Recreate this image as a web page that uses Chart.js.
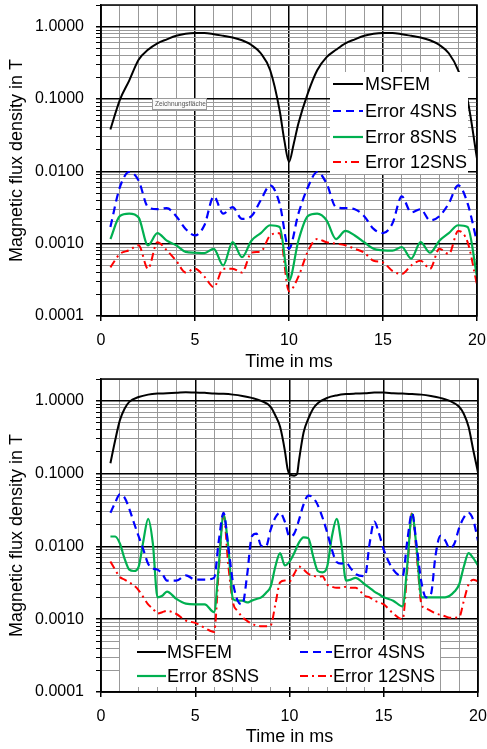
<!DOCTYPE html>
<html>
<head>
<meta charset="utf-8">
<script src="https://cdn.jsdelivr.net/npm/chart.js@4"></script>
<style>
  body { margin: 0; background: #fff; }
  canvas { display: block; }
</style>
</head>
<body>
<canvas id="chartTop" width="487" height="372"></canvas>
<canvas id="chartBottom" width="487" height="377"></canvas>
<script>
// ---- data ----
var xTickLabels = [0, 5, 10, 15, 20];
var decades = [0.0001, 0.001, 0.01, 0.1, 1];
var yTickLabels = ['0.0001', '0.0010', '0.0100', '0.1000', '1.0000'];

// upper chart
var msfemTopT = [0.5,1,1.5,2,2.5,3,3.5,4,4.5,5,5.5,6,6.5,7,7.5,8,8.5,9,9.5,9.75,10,10.25,10.5,11,11.5,12,12.5,13,13.5,14,14.5,15,15.5,16,16.5,17,17.5,18,18.5,19,19.5,20];
var msfemTop = [0.038,0.097,0.18,0.35,0.48,0.59,0.67,0.75,0.8,0.82,0.82,0.79,0.75,0.71,0.65,0.56,0.43,0.25,0.07,0.027,0.0135,0.024,0.046,0.12,0.25,0.38,0.48,0.59,0.67,0.75,0.8,0.82,0.82,0.79,0.75,0.71,0.65,0.56,0.43,0.25,0.097,0.015];

var errTopT = [0.5,1,1.5,2,2.5,3,3.5,4,4.5,5,5.5,6,6.5,7,7.5,8,8.5,9,9.5,10,10.5,11,11.5,12,12.5,13,13.5,14,14.5,15,15.5,16,16.5,17,17.5,18,18.5,19,19.5,20];
var err4Top = [0.0017,0.006,0.0098,0.0075,0.0032,0.003,0.0031,0.0024,0.0016,0.0013,0.0018,0.0045,0.0026,0.0032,0.0022,0.0024,0.004,0.0064,0.0036,0.00085,0.0026,0.006,0.0098,0.0068,0.0032,0.0031,0.003,0.0024,0.0016,0.0014,0.0019,0.0045,0.0027,0.003,0.0021,0.0024,0.0036,0.0064,0.0036,0.00105];
var err8Top = [0.00116,0.0024,0.0026,0.0023,0.00095,0.0014,0.0011,0.00095,0.00077,0.00075,0.00074,0.00085,0.0005,0.00105,0.00065,0.0011,0.0014,0.0018,0.0017,0.00031,0.0011,0.0024,0.0026,0.0021,0.00116,0.0015,0.0013,0.00105,0.00085,0.00081,0.0008,0.0009,0.00062,0.00105,0.00075,0.0011,0.0014,0.0018,0.0017,0.00035];
var err12Top = [0.00047,0.00072,0.00081,0.00095,0.00045,0.00105,0.00081,0.00058,0.0004,0.00045,0.00035,0.00025,0.00045,0.00045,0.0004,0.00075,0.00078,0.0013,0.0014,0.00022,0.00035,0.00078,0.00116,0.00105,0.001,0.00095,0.00085,0.00075,0.00058,0.00055,0.00042,0.00038,0.0005,0.00058,0.00045,0.00085,0.00072,0.0015,0.00105,0.00027];

// lower chart
var msfemBotT = [0.5,0.75,1,1.25,1.5,2,2.5,3,3.5,4,4.5,5,5.5,6,6.5,7,7.5,8,8.5,9,9.25,9.5,9.75,9.9,10,10.25,10.4,10.5,10.75,11,11.25,11.5,12,12.5,13,13.5,14,14.5,15,15.5,16,16.5,17,17.5,18,18.5,19,19.25,19.5,19.75,20];
var msfemBot = [0.139,0.286,0.54,0.78,0.97,1.13,1.22,1.26,1.27,1.29,1.32,1.3,1.29,1.26,1.25,1.22,1.17,1.1,1.0,0.83,0.63,0.44,0.21,0.116,0.099,0.094,0.099,0.15,0.37,0.57,0.78,0.93,1.1,1.19,1.24,1.26,1.27,1.3,1.3,1.27,1.26,1.24,1.22,1.17,1.1,1.0,0.83,0.66,0.44,0.21,0.104];

var errBotT = [0.5,0.75,1,1.25,1.5,1.75,2,2.25,2.5,2.75,3,3.25,3.5,4,4.5,5,5.5,6,6.25,6.5,6.75,7,7.25,7.5,7.75,8,8.25,8.5,8.75,9,9.25,9.5,9.75,10,10.25,10.5,10.75,11,11.25,11.5,11.75,12,12.25,12.5,12.75,13,13.25,13.5,14,14.25,14.5,14.75,15,15.5,16,16.25,16.5,16.75,17,17.25,17.5,17.75,18,18.25,18.5,18.75,19,19.25,19.5,19.75,20];
var err4Bot = [0.029,0.04,0.052,0.047,0.033,0.021,0.0137,0.009,0.0058,0.005,0.0048,0.0042,0.0034,0.0034,0.004,0.0035,0.0035,0.0037,0.012,0.029,0.01,0.0032,0.0018,0.0016,0.004,0.0137,0.015,0.0102,0.01,0.017,0.025,0.029,0.022,0.0137,0.015,0.023,0.038,0.05,0.047,0.037,0.025,0.0155,0.009,0.0061,0.0058,0.006,0.005,0.0042,0.0039,0.011,0.022,0.015,0.009,0.0048,0.0039,0.012,0.029,0.01,0.0032,0.002,0.0022,0.0076,0.014,0.0122,0.0094,0.011,0.018,0.025,0.029,0.023,0.012];
var err8Bot = [0.0137,0.0137,0.011,0.0068,0.0048,0.0046,0.0053,0.012,0.024,0.011,0.002,0.0021,0.0024,0.0019,0.00164,0.0016,0.0016,0.00125,0.0056,0.027,0.01,0.0019,0.0018,0.0018,0.0017,0.0018,0.0019,0.002,0.0023,0.0028,0.0053,0.0081,0.0055,0.0062,0.0081,0.0113,0.0133,0.013,0.0074,0.0046,0.0044,0.0053,0.0137,0.024,0.011,0.0034,0.0035,0.0037,0.003,0.0027,0.0024,0.0022,0.002,0.0018,0.0015,0.0056,0.028,0.009,0.002,0.002,0.002,0.002,0.002,0.002,0.0021,0.0024,0.003,0.0053,0.0081,0.0069,0.0055];
var err12Bot = [0.0062,0.0048,0.0038,0.0035,0.0032,0.0029,0.0025,0.002,0.0016,0.0014,0.0012,0.00125,0.0013,0.00118,0.00096,0.00089,0.00076,0.00067,0.0048,0.028,0.0056,0.0017,0.0013,0.00107,0.00095,0.00087,0.00082,0.0008,0.0008,0.00082,0.0016,0.0032,0.0034,0.0033,0.0042,0.0053,0.0048,0.0042,0.004,0.0038,0.0039,0.003,0.0028,0.0027,0.0027,0.0028,0.0027,0.0027,0.0021,0.002,0.0018,0.0017,0.0016,0.0012,0.001,0.0048,0.029,0.0076,0.0016,0.0014,0.0013,0.0012,0.00115,0.0011,0.00105,0.00105,0.00107,0.0018,0.003,0.0035,0.0033];

// ---- helpers ----
var FONT = '"Liberation Sans", Arial, sans-serif';
var MINOR = '#999999';

// grid values: 1..9 of every decade, up to the top of the axis (2)
var yGridValues = [];
decades.forEach(function (d) {
    for (var m = 1; m <= 9; m++) {
        if (m * d <= 2.0001) yGridValues.push(m * d);
    }
});

function isDecade(v) {
    var l = Math.log10(v);
    return Math.abs(l - Math.round(l)) < 1e-6;
}

function toPoints(ts, vs) {
    return ts.map(function (t, i) { return { x: t, y: vs[i] }; });
}

function makeDatasets(mT, m, eT, e4, e8, e12) {
    var common = { pointRadius: 0, fill: false, tension: 0.4, cubicInterpolationMode: 'monotone', borderCapStyle: 'butt' };
    return [
        Object.assign({ label: 'MSFEM', data: toPoints(mT, m), borderColor: '#000000', borderWidth: 2 }, common),
        Object.assign({ label: 'Error 4SNS', data: toPoints(eT, e4), borderColor: '#0000ff', borderWidth: 2.2, borderDash: [8, 5] }, common),
        Object.assign({ label: 'Error 8SNS', data: toPoints(eT, e8), borderColor: '#00b050', borderWidth: 2.2 }, common),
        Object.assign({ label: 'Error 12SNS', data: toPoints(eT, e12), borderColor: '#ff0000', borderWidth: 2, borderDash: [8, 4, 2, 4] }, common)
    ];
}

function makeScales(xHeight, xTitlePad) {
    return {
        x: {
            type: 'linear', min: 0, max: 20,
            afterFit: function (s) {
                s.height = xHeight;
                s.paddingLeft = 0;
                s.paddingRight = 0;
            },
            ticks: {
                stepSize: 1, autoSkip: false, maxRotation: 0, color: '#000', padding: 10,
                font: { family: FONT, size: 16 },
                callback: function (v) { return xTickLabels.indexOf(v) >= 0 ? String(v) : ''; }
            },
            grid: {
                color: function (c) { return c.tick && c.tick.value % 5 === 0 ? '#000' : MINOR; },
                lineWidth: function (c) { return c.tick && c.tick.value % 5 === 0 ? 1.5 : 1; },
                tickColor: function (c) { return c.tick && c.tick.value % 5 === 0 ? '#000' : 'rgba(0,0,0,0)'; },
                tickLength: 5
            },
            border: { color: '#000', width: 1.5 },
            title: {
                display: true, text: 'Time in ms', color: '#000',
                font: { family: FONT, size: 18, lineHeight: 1 },
                padding: { top: 0, bottom: xTitlePad }
            }
        },
        y: {
            type: 'logarithmic', min: 0.0001, max: 2,
            afterFit: function (s) {
                s.width = 101;
                s.paddingTop = 0;
                s.paddingBottom = 0;
            },
            afterBuildTicks: function (s) { s.ticks = yGridValues.map(function (v) { return { value: v }; }); },
            ticks: {
                autoSkip: false, color: '#000', padding: 12,
                font: { family: FONT, size: 16 },
                callback: function (v) {
                    for (var i = 0; i < decades.length; i++) {
                        if (Math.abs(decades[i] - v) / decades[i] < 1e-6) return yTickLabels[i];
                    }
                    return '';
                }
            },
            grid: {
                color: function (c) { return c.tick && isDecade(c.tick.value) ? '#000' : MINOR; },
                lineWidth: function (c) { return c.tick && isDecade(c.tick.value) ? 1.5 : 1; },
                tickColor: '#000',
                tickLength: 5
            },
            border: { color: '#000', width: 1.5 },
            title: {
                display: true, text: 'Magnetic flux density in T', color: '#000',
                font: { family: FONT, size: 18, lineHeight: 1 },
                padding: { top: 8, bottom: 0 }
            }
        }
    };
}

// legend box inside the plot, frame, and the Excel hover note
var boxLegend = {
    id: 'boxLegend',
    afterDatasetsDraw: function (chart, args, opts) {
        var ctx = chart.ctx, a = chart.chartArea, b = opts.box;
        ctx.save();
        ctx.fillStyle = '#fff';
        ctx.fillRect(b.x, b.y, b.w, b.h);
        ctx.font = '18px ' + FONT;
        ctx.textBaseline = 'middle';
        opts.items.forEach(function (it) {
            var ds = chart.data.datasets[it.index];
            ctx.strokeStyle = ds.borderColor;
            ctx.lineWidth = ds.borderWidth;
            ctx.setLineDash(ds.borderDash || []);
            ctx.beginPath();
            ctx.moveTo(it.lx, it.y);
            ctx.lineTo(it.lx + it.lw, it.y);
            ctx.stroke();
            ctx.setLineDash([]);
            ctx.fillStyle = '#000';
            ctx.fillText(ds.label, it.tx, it.y + 1);
        });
        ctx.strokeStyle = '#000';
        ctx.lineWidth = 1.5;
        ctx.strokeRect(a.left, a.top, a.right - a.left, a.bottom - a.top);
        if (opts.note) {
            var n = opts.note;
            ctx.fillStyle = '#fafafa';
            ctx.fillRect(n.x, n.y, n.w, n.h);
            ctx.strokeStyle = '#9a9a9a';
            ctx.lineWidth = 1;
            ctx.strokeRect(n.x + 0.5, n.y + 0.5, n.w, n.h);
            ctx.fillStyle = '#555';
            ctx.font = '6.5px ' + FONT;
            ctx.fillText(n.text, n.x + 3, n.y + n.h / 2 + 1);
        }
        ctx.restore();
    }
};

function baseOptions(pad, xHeight, xTitlePad, legendOpts) {
    return {
        responsive: false,
        animation: false,
        layout: { padding: pad },
        scales: makeScales(xHeight, xTitlePad),
        plugins: {
            legend: { display: false },
            tooltip: { enabled: false },
            boxLegend: legendOpts
        }
    };
}

new Chart(document.getElementById('chartTop').getContext('2d'), {
    type: 'line',
    data: { datasets: makeDatasets(msfemTopT, msfemTop, errTopT, err4Top, err8Top, err12Top) },
    options: baseOptions({ top: 5, right: 10, left: 0, bottom: 0 }, 56, 1, {
        box: { x: 330, y: 72, w: 138, h: 102 },
        items: [
            { index: 0, lx: 333, lw: 30, tx: 365, y: 84 },
            { index: 1, lx: 333, lw: 30, tx: 365, y: 111 },
            { index: 2, lx: 333, lw: 30, tx: 365, y: 137 },
            { index: 3, lx: 333, lw: 30, tx: 365, y: 162 }
        ],
        note: { x: 152, y: 98, w: 54, h: 11, text: 'Zeichnungsfläche' }
    }),
    plugins: [boxLegend]
});

new Chart(document.getElementById('chartBottom').getContext('2d'), {
    type: 'line',
    data: { datasets: makeDatasets(msfemBotT, msfemBot, errBotT, err4Bot, err8Bot, err12Bot) },
    options: baseOptions({ top: 7, right: 9, left: 0, bottom: 0 }, 57, 3, {
        box: { x: 120, y: 268, w: 320, h: 47 },
        items: [
            { index: 0, lx: 137, lw: 29, tx: 167, y: 280 },
            { index: 1, lx: 300, lw: 32, tx: 333, y: 280 },
            { index: 2, lx: 137, lw: 29, tx: 167, y: 304 },
            { index: 3, lx: 300, lw: 32, tx: 333, y: 304 }
        ]
    }),
    plugins: [boxLegend]
});
</script>
</body>
</html>
